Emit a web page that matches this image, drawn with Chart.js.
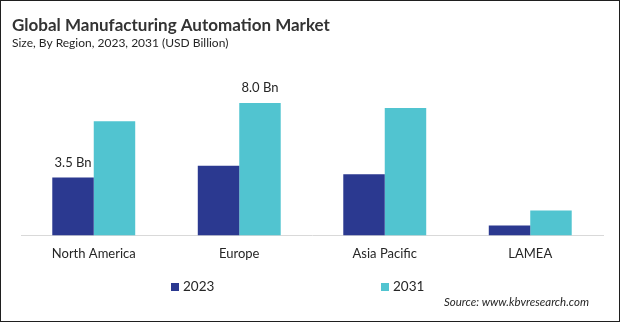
<!DOCTYPE html>
<html>
<head>
<meta charset="utf-8">
<script src="https://cdn.jsdelivr.net/npm/chart.js@4"></script>
<style>
  html, body { margin: 0; padding: 0; background: #fff; }
  canvas { display: block; }
</style>
</head>
<body>
<canvas id="grafico" width="620" height="322"></canvas>
<script>
// --- data ---
const regions = ['North America', 'Europe', 'Asia Pacific', 'LAMEA'];
const seriesNames = ['2023', '2031'];
const values2023 = [3.5, 4.2, 3.7, 0.6];
const values2031 = [6.9, 8.0, 7.7, 1.5];
// bars that carry a value label: [dataset, index]
const labelledBars = [[0, 0], [1, 1]];

const corSerie = ['#2B3990', '#51C4D0'];
const corTexto = '#262626';
const fonte = 'Lato';

// value labels, legend, source note and frame
const extras = {
  id: 'extras',
  afterDraw(chart) {
    const ctx = chart.ctx;
    ctx.save();
    ctx.fillStyle = corTexto;
    ctx.textBaseline = 'middle';

    ctx.font = `13px ${fonte}`;
    ctx.textAlign = 'center';
    labelledBars.forEach(([d, i]) => {
      const bar = chart.getDatasetMeta(d).data[i];
      const v = chart.data.datasets[d].data[i];
      ctx.fillText(v.toFixed(1) + ' Bn', bar.x, bar.y - 15);
    });

    // legend, one item per dataset
    const legendX = [171, 381];
    const legendY = 287;
    ctx.textAlign = 'left';
    ctx.font = `13.5px ${fonte}`;
    chart.data.datasets.forEach((ds, k) => {
      ctx.fillStyle = ds.backgroundColor;
      ctx.fillRect(legendX[k], legendY - 4, 8, 8);
      ctx.fillStyle = corTexto;
      ctx.fillText(ds.label, legendX[k] + 12, legendY);
    });

    ctx.font = `italic 11.5px ${fonte}`;
    ctx.textAlign = 'right';
    ctx.fillText('Source: www.kbvresearch.com', 589, 302);

    ctx.strokeStyle = '#1f1f1f';
    ctx.lineWidth = 1;
    ctx.strokeRect(0.5, 0.5, chart.width - 1, chart.height - 1);
    ctx.restore();
  }
};

new Chart(document.getElementById('grafico'), {
  type: 'bar',
  data: {
    labels: regions,
    datasets: [
      { label: seriesNames[0], data: values2023, backgroundColor: corSerie[0] },
      { label: seriesNames[1], data: values2031, backgroundColor: corSerie[1] }
    ]
  },
  options: {
    responsive: false,
    animation: false,
    devicePixelRatio: 1,
    layout: { padding: { top: 0, left: 12, right: 17, bottom: 49 } },
    datasets: {
      bar: { categoryPercentage: 0.57, barPercentage: 1.0, borderWidth: 0 }
    },
    plugins: {
      legend: { display: false },
      tooltip: { enabled: false },
      title: {
        display: true,
        align: 'start',
        text: 'Global Manufacturing Automation Market',
        color: '#333333',
        font: { family: fonte, size: 17, weight: 'bold' },
        padding: { top: 15, bottom: 0 }
      },
      subtitle: {
        display: true,
        align: 'start',
        text: 'Size, By Region, 2023, 2031 (USD Billion)',
        color: corTexto,
        font: { family: fonte, size: 12 },
        padding: { top: 1, bottom: 19 }
      }
    },
    scales: {
      x: {
        grid: { display: false, drawTicks: false },
        border: { display: true, color: '#d9d9d9', width: 1 },
        ticks: { color: corTexto, font: { family: fonte, size: 13 }, padding: 11 }
      },
      y: {
        min: 0,
        max: 10,
        grid: { display: false },
        border: { display: false },
        ticks: { display: false },
        afterFit: s => { s.width = 9; }
      }
    }
  },
  plugins: [extras]
});
</script>
</body>
</html>
